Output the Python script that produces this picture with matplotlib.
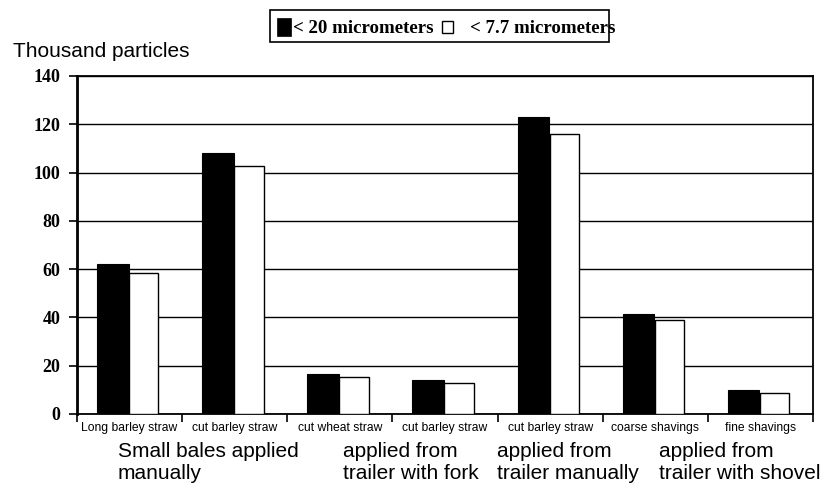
import matplotlib
matplotlib.use("Agg")
import matplotlib.pyplot as plt
from matplotlib.patches import Rectangle
import numpy as np

# ---- data ----
categories = ["Long barley straw", "cut barley straw", "cut wheat straw",
              "cut barley straw", "cut barley straw", "coarse shavings",
              "fine shavings"]
series_names = ["< 20 micrometers", "< 7.7 micrometers"]
values_20 = [62.1, 108.2, 16.6, 14.1, 122.9, 41.3, 9.9]
values_77 = [58.3, 102.7, 15.5, 13.0, 116.1, 38.9, 8.8]
y_ticks = [0, 20, 40, 60, 80, 100, 120, 140]
y_title = "Thousand particles"
group_labels = ["Small bales applied\nmanually",
                "applied from\ntrailer with fork",
                "applied from\ntrailer manually",
                "applied from\ntrailer with shovel"]
group_label_x = [-0.11, 2.03, 3.495, 5.035]

W, H = 834, 483
fig = plt.figure(figsize=(W / 100, H / 100), dpi=100)

def fx(px):
    return px / W

def fy(py):
    return 1 - py / H

ax = fig.add_axes([fx(77), fy(414), fx(813) - fx(77), (414 - 76) / H])

x = np.arange(len(categories))
ax.bar(x - 0.16, values_20, width=0.30, color="black", edgecolor="black",
       linewidth=0.8, zorder=3)
ax.bar(x + 0.135, values_77, width=0.28, color="white", edgecolor="black",
       linewidth=1.0, zorder=3)

ax.set_xlim(-0.5, len(categories) - 0.5)
ax.set_ylim(0, 140)

# y axis
ax.set_yticks(y_ticks)
ax.set_yticklabels([str(v) for v in y_ticks],
                   fontfamily="Liberation Serif", fontweight="bold", fontsize=13)
ax.tick_params(axis="y", direction="out", length=6, width=1.2, pad=6,
               colors="black")
for v in y_ticks:
    ax.axhline(v, color="black", linewidth=1.0, zorder=1)

# x axis
ax.set_xticks(x)
ax.set_xticklabels(categories, fontfamily="Liberation Sans", fontsize=8.7)
ax.tick_params(axis="x", which="major", length=0, pad=6)
ax.set_xticks(np.arange(-0.5, len(categories) + 0.5, 1.0), minor=True)
ax.tick_params(axis="x", which="minor", direction="out", length=6, width=1.2)

ax.spines["left"].set_linewidth(2.0)
for side in ["bottom", "right", "top"]:
    ax.spines[side].set_linewidth(1.3)

# y title
fig.text(fx(13), fy(57), y_title, fontfamily="Liberation Sans", fontsize=15,
         ha="left", va="baseline")

# group labels below the categories
for lab, gx in zip(group_labels, group_label_x):
    xpx = 77 + (gx + 0.5) * (813 - 77) / len(categories)
    for k, line in enumerate(lab.split("\n")):
        fig.text(fx(xpx), fy(457 + 22 * k), line, fontfamily="Liberation Sans",
                 fontsize=15, ha="left", va="baseline")

# legend (manual)
fig.patches.append(Rectangle((fx(270), fy(42.3)), fx(609) - fx(270),
                             fy(10.5) - fy(42.3), transform=fig.transFigure,
                             facecolor="white", edgecolor="black", linewidth=1.2,
                             zorder=1))
fig.patches.append(Rectangle((fx(277), fy(36)), fx(291) - fx(277),
                             fy(18) - fy(36), transform=fig.transFigure,
                             facecolor="black", edgecolor="black", linewidth=0.5,
                             zorder=2))
fig.patches.append(Rectangle((fx(442), fy(33)), fx(453) - fx(442),
                             fy(21) - fy(33), transform=fig.transFigure,
                             facecolor="white", edgecolor="black", linewidth=1.0,
                             zorder=2))
fig.text(fx(293), fy(33.3), series_names[0], fontfamily="Liberation Serif",
         fontweight="bold", fontsize=13.6, ha="left", va="baseline", zorder=3)
fig.text(fx(470), fy(33.3), series_names[1], fontfamily="Liberation Serif",
         fontweight="bold", fontsize=13.6, ha="left", va="baseline", zorder=3)

fig.savefig("out.png", dpi=100)
